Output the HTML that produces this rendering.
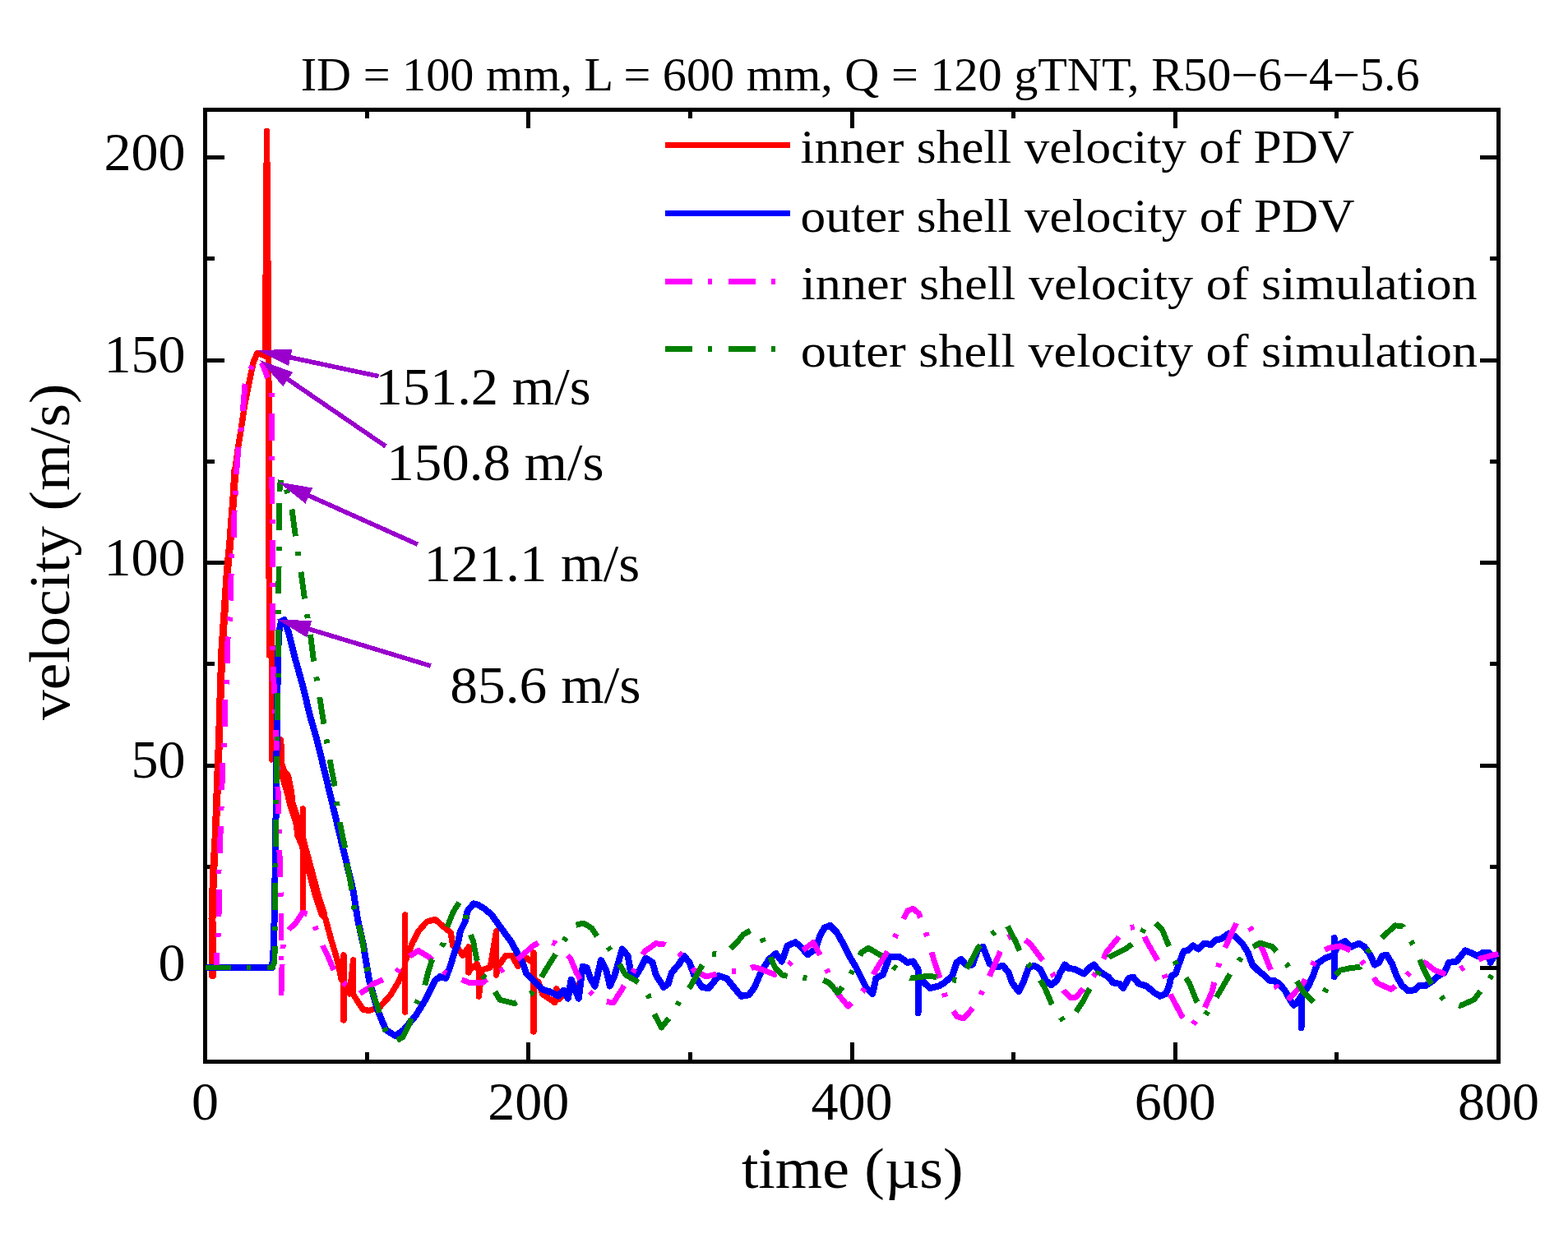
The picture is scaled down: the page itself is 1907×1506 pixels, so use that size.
<!DOCTYPE html><html><head><meta charset="utf-8"><title>velocity</title><style>html,body{margin:0;padding:0;background:#fff;overflow:hidden}svg{display:block}text{font-family:"Liberation Serif",serif;fill:#000}</style></head><body>
<svg width="1907" height="1506" viewBox="0 0 1907 1506" shape-rendering="crispEdges">
<rect width="1907" height="1506" fill="#fff"/>
<rect x="249.5" y="133" width="1573" height="1158" fill="none" stroke="#000" stroke-width="5"/>
<path d="M249.5 1291v-23M249.5 133v23M446.1 1291v-11M446.1 133v11M642.8 1291v-23M642.8 133v23M839.4 1291v-11M839.4 133v11M1036.0 1291v-23M1036.0 133v23M1232.6 1291v-11M1232.6 133v11M1429.2 1291v-23M1429.2 133v23M1625.9 1291v-11M1625.9 133v11M1822.5 1291v-23M1822.5 133v23M249.5 1177.5h23M1822.5 1177.5h-23M249.5 1054.2h11M1822.5 1054.2h-11M249.5 931.0h23M1822.5 931.0h-23M249.5 807.8h11M1822.5 807.8h-11M249.5 684.5h23M1822.5 684.5h-23M249.5 561.2h11M1822.5 561.2h-11M249.5 438.0h23M1822.5 438.0h-23M249.5 314.8h11M1822.5 314.8h-11M249.5 191.5h23M1822.5 191.5h-23" stroke="#000" stroke-width="5" fill="none"/>
<g fill="none" stroke-width="6.6" stroke-linejoin="round">
<polyline points="258.4,1187 258,1118 259.5,1062 262,1021 264.3,957.5 266.7,893.7 268.3,839.1 269.9,791.3 273.1,743.5 276.3,695.6 279.5,663.8 281.9,631.9 284.3,600 285.9,571.3 289.1,547.4 293,523.5 297.8,491.6 304.2,459.7 308.2,440.6 313,429.4 322.5,433 324.5,159.5 326.5,400 327,500 327.3,797 330.3,745 330.5,924 336,905 341.7,900 342.4,929 344.6,936.5 350.5,943.8 354.1,961.4 356.3,980.4 359.2,995 362.1,1016.9 368.3,1031 368.3,984 368.3,1107 368.3,1031 373.8,1046.1 379.7,1068.1 385.5,1090 392.8,1111.9 396.1,1118.4 402,1140.4 410.7,1169.6 415.1,1191.5 418,1162 418,1241 418,1195 425.3,1209 429.7,1168 429.7,1210 441.4,1228 448.8,1229.4 461.9,1225 475,1210.5 483.8,1195.8 492.6,1176.9 492.6,1113 492.6,1231 492.6,1170 501.3,1147.6 508.7,1133 518.9,1121.3 529.1,1118.4 539.3,1127.2 548.1,1134.5 551,1150.6 556.9,1153.5 562.7,1162.3 570,1152 570,1183 571.5,1179.8 580.2,1172.5 582.4,1181 582.4,1212 586.1,1179.8 596.3,1176.9 603.6,1133 603.6,1186 605,1176.9 615.3,1162.3 622.6,1162.3 629.9,1175.4 640,1165 648.9,1172 648.9,1159 648.9,1255 648.9,1190 655,1195 660,1209.6 674.8,1219.6 676.8,1202.7 679.8,1215.6 690,1205 703.7,1197.7" stroke="#f00" stroke-width="7.4" stroke-linecap="round"/>
<polyline points="258.4,1187 258,1118 259.5,1062 262,1021 264.3,957.5 266.7,893.7 268.3,839.1 269.9,791.3 273.1,743.5 276.3,695.6 279.5,663.8 281.9,631.9 284.3,600 285.9,571.3" stroke="#f00" stroke-width="9" stroke-linecap="round"/>
<polyline points="341.8,932 343.3,938 346.8,950 351.4,965 354.4,978 359,992 363,1005 368,1025 373.8,1046.1 379.7,1068.1 385.5,1090 392.8,1111.9" stroke="#f00" stroke-width="11" stroke-linecap="round"/>
<polyline points="253.5,1177 331,1177 333,1150 334.5,1069 336,960 337,870 338,800 339,770 342,756 345.6,754 350.9,769.2 358.2,798.4 368.4,834.9 377.2,871.4 385.5,900 394.3,936.5 403.1,973 411.8,1009.6 420.6,1046.1 429.4,1082.7 435.2,1119.2 442,1150 448.8,1191.5 459,1228 469.2,1252.8 480.9,1260.1 491.1,1252.8 505.7,1235.3 517.4,1216.3 529.1,1193 535,1188 542.2,1190 548.1,1174 552.5,1159.3 556.9,1147.6 559.8,1133 565.6,1121.3 568.5,1108.2 575.8,1099.4 581.7,1100.9 589,1105.3 597.8,1112.6 605,1122.8 612.4,1133 621.1,1144.7 628.4,1157.9 635,1169.8 640,1183.7 649.9,1193.7 659.9,1203.7 669.8,1206.7 678.8,1211.6 685.8,1204.7 690.8,1214.6 694.7,1191.7 699.7,1204.7 703.7,1214.6 708.7,1175.8 713.7,1177 718.6,1191.7 723.6,1199.7 730.9,1168.2 737.7,1181.8 741.8,1199.5 747.3,1187.2 756.8,1154.5 763.6,1162.7 767.7,1185.9 773.2,1187.2 780,1176.3 785.4,1165.4 793.6,1170.9 797.7,1185.9 807.2,1200.9 812.7,1196.8 816.8,1183.2 826.3,1172.2 831.8,1162.7 838.6,1170.9 844.1,1185.9 853.6,1200.9 861.8,1202.2 874,1187.2 883.6,1190 894.5,1203.6 901.3,1211.8 910.9,1210.4 917.7,1200.9 925.9,1181.8 935.4,1166.8 943.6,1160 950.9,1169.5 957.7,1150.4 967.3,1146.3 974.1,1151.8 982.3,1161.3 991.8,1154.5 997.3,1138.2 1002.7,1128.6 1009.5,1125.9 1017.7,1134.1 1024.5,1146.3 1032.7,1162.7 1040.9,1176.3 1049.1,1192.7 1053.2,1200.9 1061.3,1209.1 1065.4,1190 1073.6,1185.9 1077.7,1175 1081.8,1164.1 1094.1,1164.1 1103.6,1170.9 1110.4,1169.5 1116.5,1179 1116.5,1232 1116.5,1185 1121.3,1192.7 1130.9,1202.2 1141.8,1199.5 1148.6,1195.4 1158.1,1187.2 1163.6,1170.9 1169,1166.8 1174.5,1173.6 1182.7,1173.6 1189.5,1154.5 1195.5,1151.8 1203.6,1172.2 1211.8,1176.3 1220,1175 1226.8,1183.2 1230.9,1195.4 1239.1,1206.3 1244.5,1195.4 1251.3,1176.3 1258.2,1175 1265,1179 1271.8,1192.7 1278.6,1198.2 1285.4,1192.7 1289.5,1183.2 1295,1173.6 1299.1,1177.7 1307.2,1179 1318.2,1184.5 1326.3,1176.3 1330.4,1173.6 1337.2,1181.8 1348.1,1188.6 1353.6,1195.4 1361.8,1196.8 1365.9,1202.2 1372.7,1190 1378.1,1188.6 1385,1196.8 1394.5,1199.5 1404,1207.7 1410.9,1211.8 1417.7,1209.1 1421.8,1199.5 1424.5,1187.2 1429.9,1184.5 1434,1172.2 1439.5,1157.3 1445,1155.9 1450.9,1150.4 1457.7,1154.5 1464.5,1147.7 1472.7,1149 1478.2,1143.6 1485,1142.3 1494.5,1135.4 1502.7,1139.5 1510.9,1147.7 1517.7,1158.6 1523.2,1173.6 1530,1180.4 1536.8,1185.9 1543.6,1192.7 1549.1,1192.7 1555.9,1196.8 1562.7,1205 1569.5,1217.2 1573.6,1222.7 1578,1219 1582.5,1212 1582.5,1250 1582.5,1212 1584.5,1209.1 1591.3,1199.5 1596.8,1187.2 1602.2,1172.2 1611.8,1165.4 1620,1162.7 1622.7,1160 1622.7,1141 1622.7,1188 1622.7,1160 1628.1,1149 1636.3,1145 1643.1,1151.8 1652.7,1147.7 1659.5,1151.8 1666.3,1161.3 1671.8,1173.6 1677.2,1170.9 1681.1,1163 1686.4,1161.6 1693,1172.3 1698.4,1186.9 1705,1198.8 1713,1205.5 1720.9,1204.1 1726.2,1198.8 1734.2,1198.8 1742.2,1193.5 1747.5,1188.2 1756.8,1182.9 1762.1,1170.9 1771.4,1169.6 1776.7,1163 1782,1156.3 1788.7,1159 1796.6,1163 1803.3,1159 1811.2,1159 1812.6,1170.9 1816,1165 1819.5,1161.6" stroke="#00f" stroke-width="8" stroke-linecap="round"/>
<polyline points="249.5,1177 263,1177 263.1,1172.5 263.9,1159.3 265.3,1135.2 266.1,1111 266.1,1082 266,1059.5 267.5,1035.6 268.3,1005.3 269.1,982.2 269.9,959.1 270.7,928.8 272.3,905.7 273.9,882.6 273.9,850.7 275.5,829.6 276.3,805.6 277.1,775.4 279.5,752.2 280.3,729.1 281.1,698.8 281.9,675.7 284.3,652.6 285.1,620.7 286.7,600 287.5,576 289.9,545.8 293,523.5 295.4,499.6 297.8,469.3 304.2,450.1 309,440 314.6,435 319.6,444.3" stroke="#f0f" stroke-width="6.9" stroke-dasharray="33 19 5 20" stroke-dashoffset="1.5"/>
<polyline points="319.6,444.3 320,445 325,458 330,470 331,600 331.8,800 333,830 335.5,889.2" stroke="#f0f" stroke-width="6.9" stroke-dasharray="33 19 5 20" stroke-dashoffset="16.5"/>
<polyline points="335.5,889.2 336,900 338,960 339,1000 340.8,1069 342,1100 342,1208 342.1,1204.9" stroke="#f0f" stroke-width="6.9" stroke-dasharray="33 19 5 20" stroke-dashoffset="9.5"/>
<polyline points="342.1,1204.9 343.5,1160 345,1139 352,1130 359.6,1122.8 368,1110 377.1,1112.6 387.3,1137.4 393.9,1153.5 399,1163.7 407,1182.7 419.5,1197.3 437,1209 448.7,1201.7 453,1197.3 466.3,1191.5 482.4,1182.7 495.5,1165.2 508.7,1156.4 523.3,1165.2 540.8,1182.7 553.9,1188.5 571.5,1195.8 586.1,1195.8 597.8,1187 613.8,1178.3 630,1166.7 647.9,1150.9 661.9,1142.4 675.8,1147.9 693.7,1165.8 700.7,1182.3 709,1198 726.8,1215.9 745.9,1220 755.4,1205 774.5,1175 784,1157.3 797.7,1147.7 808.6,1149 820.9,1155.9 833.1,1165.4 844,1180.4 859,1188 867.2,1185.9 887.7,1181.1 904,1183.2 916.3,1176.3 925.9,1179 942.2,1185.5 953.6,1180.4 972.7,1158.6 989.1,1146.5 998.6,1164 1010.9,1191.3 1019,1209 1031.3,1224 1049.1,1206.3 1060,1188.6 1070.9,1170.9 1084.5,1149 1094,1127.3 1103.6,1108.2 1110.4,1105.4 1117.2,1110.9 1124,1127.3 1130.9,1150.4 1136.3,1169.5 1145.9,1198.2 1150,1214.5 1163.6,1236.3 1171.8,1239 1180,1230 1189.5,1217.2 1200.9,1192.7 1209,1175 1217.3,1155.9 1225.4,1140.9 1235,1135.4 1252.7,1147.7 1265,1164.1 1282.7,1188.6 1293.6,1205 1302,1213.5 1308.6,1213.2 1325,1194 1337.2,1177.7 1345.4,1158.6 1370,1128.6 1386.3,1127.3 1394.5,1145 1410.9,1173.6 1417.7,1190 1424.5,1211.8 1436.8,1235 1447.7,1249.5 1461.8,1233.6 1474.1,1206.3 1479.5,1184.5 1485,1164.1 1495.9,1139.5 1504.1,1121.8 1519.1,1125.9 1530,1145 1535.4,1154.5 1546.3,1181.8 1553.2,1202.2 1566,1217 1584.5,1196.8 1594,1179 1603.6,1160 1615.9,1153.2 1630,1150.8 1645.9,1157.5 1659.6,1173.6 1675,1195.8 1691.7,1203.5 1706.3,1192.2 1722.3,1173.6 1732.9,1170.9 1744.8,1180.2 1759.4,1185.5 1770,1182.9 1785.3,1173.6 1801.9,1165.6 1822,1160.3" stroke="#f0f" stroke-width="6.9" stroke-dasharray="33 19 5 20" stroke-dashoffset="1.0"/>
<polyline points="249.5,1177 331,1177 334,1170 334.5,1100 335.5,1000 337,900 338.5,800 339,700 339.5,620 340,598.2" stroke="#008000" stroke-width="6.9" stroke-dasharray="33 19 5 20" stroke-dashoffset="2.0"/>
<polyline points="340,598.2 340.2,592 341.5,583.5 343.5,581 346,585 348.5,596 355.2,620.7 359.2,651 362.8,675 366.4,698.8 370.4,727.5 373.8,750 377.5,772.2 381.5,804 385.2,826 388.6,847.5 393.4,877.8 400.9,923.4 406.7,954.1 409.6,976.7 413.3,1000.8 419.1,1028.6 419.5,1031.6" stroke="#008000" stroke-width="6.9" stroke-dasharray="33 19 5 20" stroke-dashoffset="18.6"/>
<polyline points="419.5,1031.6 422.1,1050.5 427.9,1082.7 430.8,1104.6 436,1125 440,1140 443,1159 446.6,1179.8 450.2,1200.2 459,1223.6 464.1,1241.9 471.5,1260.3 480.7,1267.2 490,1261.4 498.4,1244.8 504.3,1225 516,1201.7 520.3,1184.2 524.7,1169.6 539.3,1147.6 542.2,1131.6 551,1109.7 559,1097.2 565.6,1106 567.1,1121.3 575.8,1146.2 578.8,1162.3 583.1,1181.2 599.2,1201.7 608,1216.3 625.5,1220.7 646,1209 654.9,1194.7 664.9,1177.8 678.8,1155.9 688.8,1139.9 697.7,1126 709.7,1123 719.6,1129 729.6,1143.9 737.7,1149 751.3,1169.5 760.9,1185.9 777.3,1195.4 788.2,1210.4 795,1232.2 804.5,1250 819.5,1230.9 829,1213.2 840,1199.5 853.6,1175 864.5,1160 880.9,1161.3 898.6,1143.6 904,1136.8 915,1130.7 925.9,1139.5 934,1157.3 942.2,1176.3 950.9,1185.9 963.2,1188.6 980.9,1190 998.6,1191.3 1008.2,1195.4 1019,1207.7 1031.3,1192.7 1040.9,1172.2 1047.7,1158.6 1055.9,1153.2 1072.2,1162.7 1087.2,1176.3 1107.7,1190 1129.5,1187.2 1147.2,1190 1165,1192.7 1178.6,1173.6 1189.5,1153.2 1203.6,1138.2 1224,1124 1235,1145 1243.2,1164.1 1259.5,1183.2 1270.4,1200.9 1278.6,1220 1293.6,1242.5 1308.6,1230.9 1316.8,1218.6 1329,1195.4 1340,1176.3 1349.5,1164.1 1368.6,1154.5 1383.6,1143.6 1394.5,1124.5 1402.7,1119.8 1413.6,1131.4 1423.1,1154.5 1431.3,1175 1446.3,1195.4 1455,1217.2 1465.9,1235 1479.5,1213.2 1489.1,1196.8 1498.6,1180.4 1516.3,1155.9 1532.7,1147 1547.7,1151.8 1565.4,1173.6 1575,1190 1585.9,1207.7 1598,1219.3 1607.7,1213.2 1617.2,1195.4 1629.5,1180.4 1641.8,1177.7 1654,1176.3 1663.6,1157.3 1677.2,1143.6 1697,1125.8 1706.3,1127.1 1722.3,1156.3 1730.2,1176.2 1739.5,1194.8 1756.8,1217.4 1776,1223.4 1792.6,1216.1 1809.9,1193.5 1822,1174" stroke="#008000" stroke-width="6.9" stroke-dasharray="33 19 5 20" stroke-dashoffset="58.5"/>
</g>
<text x="249.5" y="1361.5" font-size="66" text-anchor="middle">0</text>
<text x="642.8" y="1361.5" font-size="66" text-anchor="middle">200</text>
<text x="1036.0" y="1361.5" font-size="66" text-anchor="middle">400</text>
<text x="1429.2" y="1361.5" font-size="66" text-anchor="middle">600</text>
<text x="1822.5" y="1361.5" font-size="66" text-anchor="middle">800</text>
<text x="225.5" y="1192.8" font-size="66" text-anchor="end">0</text>
<text x="225.5" y="946.3" font-size="66" text-anchor="end">50</text>
<text x="225.5" y="699.8" font-size="66" text-anchor="end">100</text>
<text x="225.5" y="453.3" font-size="66" text-anchor="end">150</text>
<text x="225.5" y="206.8" font-size="66" text-anchor="end">200</text>
<text x="901.9" y="1444.8" font-size="69" textLength="269.7" lengthAdjust="spacingAndGlyphs">time (µs)</text>
<text transform="translate(83.5 876) rotate(-90)" font-size="69" textLength="409.4" lengthAdjust="spacingAndGlyphs">velocity (m/s)</text>
<text x="365.7" y="110.2" font-size="57" textLength="1361" lengthAdjust="spacingAndGlyphs">ID = 100 mm, L = 600 mm, Q = 120 gTNT, R50−6−4−5.6</text>
<line x1="809" y1="176.4" x2="961" y2="176.4" stroke="#f00" stroke-width="7"/>
<text x="973.6" y="198.2" font-size="56" textLength="673.5" lengthAdjust="spacingAndGlyphs">inner shell velocity of PDV</text>
<line x1="809" y1="259.2" x2="961" y2="259.2" stroke="#00f" stroke-width="7"/>
<text x="973.6" y="281.6" font-size="56" textLength="674" lengthAdjust="spacingAndGlyphs">outer shell velocity of PDV</text>
<line x1="809" y1="342.3" x2="961" y2="342.3" stroke="#f0f" stroke-width="7" stroke-dasharray="33 19 5 20"/>
<text x="974.6" y="364.2" font-size="56" textLength="822" lengthAdjust="spacingAndGlyphs">inner shell velocity of simulation</text>
<line x1="809" y1="424.9" x2="961" y2="424.9" stroke="#008000" stroke-width="7" stroke-dasharray="33 19 5 20"/>
<text x="973.7" y="445.5" font-size="56" textLength="823.3" lengthAdjust="spacingAndGlyphs">outer shell velocity of simulation</text>
<text x="456.6" y="492.3" font-size="64" textLength="262" lengthAdjust="spacingAndGlyphs">151.2 m/s</text>
<text x="470.2" y="584.3" font-size="64" textLength="264.3" lengthAdjust="spacingAndGlyphs">150.8 m/s</text>
<text x="515.5" y="706.8" font-size="64" textLength="262.6" lengthAdjust="spacingAndGlyphs">121.1 m/s</text>
<text x="547.3" y="854.7" font-size="64" textLength="232.3" lengthAdjust="spacingAndGlyphs">85.6 m/s</text>
<line x1="460.5" y1="457.7" x2="351.2" y2="434.4" stroke="#9900cc" stroke-width="5.6"/>
<polygon points="313.1,426.3 351.0,445.1 355.4,424.6" fill="#9900cc"/>
<line x1="469.1" y1="542.9" x2="348.5" y2="460.3" stroke="#9900cc" stroke-width="5.6"/>
<polygon points="316.3,438.3 344.2,470.1 356.1,452.8" fill="#9900cc"/>
<line x1="507.9" y1="662.2" x2="374.0" y2="602.2" stroke="#9900cc" stroke-width="5.6"/>
<polygon points="338.4,586.3 371.5,612.6 380.1,593.5" fill="#9900cc"/>
<line x1="523.9" y1="810.1" x2="374.2" y2="764.7" stroke="#9900cc" stroke-width="5.6"/>
<polygon points="336.9,753.4 373.1,775.3 379.2,755.2" fill="#9900cc"/>
</svg></body></html>
